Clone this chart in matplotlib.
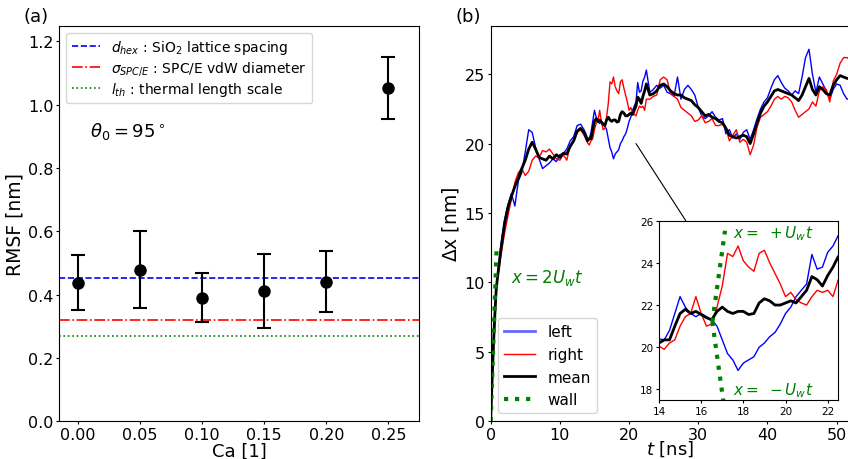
import numpy as np
import matplotlib.pyplot as plt
from matplotlib.patches import ConnectionPatch

# (a) RMSF of the contact line vs capillary number
ca = [0.00, 0.05, 0.10, 0.15, 0.20, 0.25]
rmsf = [0.437, 0.479, 0.390, 0.411, 0.441, 1.054]
rmsf_err = [0.087, 0.121, 0.078, 0.116, 0.095, 0.098]
d_hex = 0.451
sigma_spce = 0.318
l_th = 0.268

# (b) contact line displacement
t_ns = np.concatenate([
    [0.0, 0.2, 0.4, 0.6, 0.8],
    np.arange(1.0, 14.0, 0.5),
    np.arange(14.0, 22.75, 0.25),
    np.arange(23.0, 52.5, 0.5),
])
dx_left = [
    0, 3.5, 5.8, 7.8, 9.4, 10.6,
    12.8, 14.5, 15.6, 16.4, 15.5, 17.3, 17.9, 19.4, 21.0, 20.8,
    19.7, 18.9, 18.2, 18.4, 18.6, 18.9, 18.7, 19.2, 19.3, 19.6,
    20.2, 20.5, 21.3, 21.4, 21.0,
    # 14 - 22.5 ns
    20.4, 20.35, 20.8, 21.6, 22.4, 21.9, 21.6, 21.45, 21.6, 21.45,
    21.3, 21.0, 20.35, 19.7, 19.4, 18.9, 19.25, 19.4, 19.55, 20.0,
    20.2, 20.5, 20.7, 21.1, 21.6, 21.9, 22.4, 22.7, 23.0, 24.4,
    23.7, 23.8, 24.5, 24.8, 25.3,
    # 23 - 52 ns
    23.7, 23.9, 24.2, 24.0, 24.2, 23.7, 23.6, 23.4, 24.8, 23.2,
    23.9, 24.2, 23.9, 23.5, 22.6, 22.0, 21.8, 22.0, 22.3, 21.9,
    21.7, 21.8, 20.7, 21.0, 20.4, 20.7, 20.3, 20.8, 21.0, 20.3,
    21.0, 21.8, 22.5, 23.0, 23.3, 24.0, 24.6, 24.9, 24.4, 24.0,
    23.8, 23.5, 23.8, 23.6, 24.8, 26.2, 26.8, 25.0, 23.7, 24.8,
    24.3, 23.8, 23.2, 23.9, 24.3, 24.2, 23.6, 23.2, 23.3,
]
dx_right = [
    0, 2.5, 5.0, 7.3, 9.2, 10.2,
    12.0, 13.5, 14.8, 16.0, 17.2, 17.9, 18.2, 17.7, 18.0, 18.8,
    19.1, 19.0, 19.5, 19.4, 19.6, 19.25, 18.9, 18.8, 19.2, 18.8,
    19.9, 20.2, 20.8, 21.0, 20.6,
    # 14 - 22.5 ns
    20.05, 19.9, 20.2, 20.35, 21.0, 21.45, 21.6, 22.4, 21.6, 21.0,
    21.1, 21.9, 22.9, 24.45, 24.3, 24.8, 24.1, 23.8, 23.6, 24.45,
    24.6, 24.0, 23.5, 23.0, 22.4, 22.6, 22.25, 22.1, 22.0, 22.4,
    22.7, 22.6, 22.7, 22.4, 23.2,
    # 23 - 52 ns
    23.2, 23.4, 23.5, 24.6, 24.8, 24.6, 23.6, 23.4, 23.2, 22.6,
    22.4, 22.2, 22.0, 21.6, 21.7, 22.0, 21.5, 21.6, 21.8, 21.3,
    21.3, 21.4, 21.1, 20.2, 20.6, 21.0, 20.1, 20.3, 20.1, 19.2,
    19.9, 21.2, 21.9, 22.1, 22.3, 22.7, 23.2, 23.4, 23.2, 23.4,
    23.3, 23.0, 22.4, 21.9, 22.1, 22.3, 22.5, 23.0, 22.7, 23.8,
    24.1, 23.9, 23.0, 24.5, 25.0, 25.8, 26.2, 26.2, 26.0,
]
dx_mean = [
    0, 2.8, 5.4, 7.6, 9.5, 10.4,
    12.4, 14.2, 15.4, 16.2, 16.9, 17.5, 18.2, 18.8, 19.6, 20.1,
    19.6, 19.0, 18.9, 18.8, 19.1, 18.9, 19.2, 19.0, 19.3, 19.25,
    19.8, 20.2, 20.9, 21.1, 20.8,
    # 14 - 22.5 ns
    20.2, 20.35, 20.35, 21.0, 21.6, 21.8, 21.6, 21.7, 21.55, 21.4,
    21.3, 21.7, 21.9, 21.7, 21.6, 21.7, 21.7, 21.55, 21.6, 22.1,
    22.3, 22.2, 22.0, 22.0, 22.1, 22.2, 22.1, 22.4, 22.7, 23.35,
    23.2, 22.9, 23.4, 23.8, 24.3,
    # 23 - 52 ns
    23.5, 23.6, 23.8, 24.2, 24.3, 24.1, 23.8, 23.6, 23.5, 23.5,
    23.3, 23.2, 23.1, 22.8, 22.6, 22.3, 22.0, 22.1, 21.9, 21.8,
    21.6, 21.5, 21.1, 20.6, 20.5, 20.4, 20.5, 20.6, 20.5, 20.0,
    20.7, 21.5, 22.2, 22.7, 23.0, 23.4, 23.8, 23.9, 23.8, 23.7,
    23.6, 23.5, 23.3, 23.1, 23.5, 24.1, 24.7, 23.9, 23.5, 24.1,
    23.9, 23.6, 23.5, 24.2, 24.6, 24.9, 24.8, 24.7, 24.7,
]

# wall speed [nm/ns] and where the wall lines are drawn
U_w = 7.2
wall_t_main = np.array([0.0, 0.88])
wall_t0, wall_x0 = 16.53, 21.2
wall_t_inset = np.array([wall_t0, 17.13])

fig = plt.figure(figsize=(8.48, 4.6), dpi=100)

# ---------------- (a) ----------------
ax_a = fig.add_axes([0.0699, 0.0826, 0.4245, 0.8594])
ax_a.axhline(d_hex, color="b", ls="--", lw=1.2,
             label=r"$d_{hex}$ : SiO$_2$ lattice spacing")
ax_a.axhline(sigma_spce, color="r", ls="-.", lw=1.2,
             label=r"$\sigma_{SPC/E}$ : SPC/E vdW diameter")
ax_a.axhline(l_th, color="g", ls=":", lw=1.2,
             label=r"$l_{th}$ : thermal length scale")
ax_a.errorbar(ca, rmsf, yerr=rmsf_err, fmt="o", color="k", ms=8,
              capsize=5, elinewidth=1.5, capthick=1.5)
ax_a.set_xlim(-0.0153, 0.275)
ax_a.set_ylim(0, 1.25)
ax_a.set_xticks(ca)
ax_a.set_xticklabels(["%.2f" % c for c in ca])
ax_a.set_yticks(np.arange(0, 1.3, 0.2))
ax_a.tick_params(labelsize=11.5, length=2.5, pad=1.5)
ax_a.set_xlabel("Ca [1]", fontsize=13, labelpad=0)
ax_a.set_ylabel("RMSF [nm]", fontsize=13.5, labelpad=3)
ax_a.text(0.0095, 0.919, r"$\theta_0 = 95^\circ$", fontsize=13, va="center")
ax_a.legend(loc="upper left", fontsize=10, labelspacing=0.2)
fig.text(0.0283, 0.9637, "(a)", fontsize=13, va="center")

# ---------------- (b) ----------------
# right spine sits at the figure edge (cropped in the original)
ax_b = fig.add_axes([0.5786, 0.0826, 0.4237, 0.8594])
ax_b.plot(t_ns, dx_left, color="b", lw=1, label="left")
ax_b.plot(t_ns, dx_right, color="r", lw=1, label="right")
ax_b.plot(t_ns, dx_mean, color="k", lw=2, label="mean")
ax_b.plot(wall_t_main, 2 * U_w * wall_t_main, color="g", ls=":", lw=3,
          label="wall")
ax_b.set_xlim(0, 51.92)
ax_b.set_ylim(0, 28.5)
ax_b.set_xticks(np.arange(0, 51, 10))
ax_b.set_yticks(np.arange(0, 26, 5))
ax_b.tick_params(labelsize=11.5, length=2.5, pad=1.5)
ax_b.set_xlabel(r"$t$ [ns]", fontsize=13, labelpad=-2.5)
ax_b.set_ylabel(r"$\Delta$x [nm]", fontsize=13.5, labelpad=3)
ax_b.text(3.0, 10.4, r"$x = 2U_wt$", color="g", fontsize=12, va="center")
leg = ax_b.legend(loc="lower left", fontsize=11)
leg.legend_handles[0].set_alpha(0.6)
leg.legend_handles[0].set_linewidth(2)
fig.text(0.5374, 0.9637, "(b)", fontsize=13, va="center")

# inset: zoom on the split around t = 17 ns
ax_in = fig.add_axes([0.7771, 0.1283, 0.2114, 0.3898])
ax_in.plot(t_ns, dx_left, color="b", lw=1)
ax_in.plot(t_ns, dx_right, color="r", lw=1)
ax_in.plot(t_ns, dx_mean, color="k", lw=2)
ax_in.plot(wall_t_inset, wall_x0 + U_w * (wall_t_inset - wall_t0),
           color="g", ls=":", lw=3)
ax_in.plot(wall_t_inset, wall_x0 - U_w * (wall_t_inset - wall_t0),
           color="g", ls=":", lw=3)
ax_in.set_xlim(14, 22.5)
ax_in.set_ylim(17.5, 26)
ax_in.set_xticks([14, 16, 18, 20, 22])
ax_in.set_yticks([18, 20, 22, 24, 26])
ax_in.tick_params(labelsize=7.5, length=2.5, pad=1.5)
ax_in.text(17.5, 25.45, r"$x =\ +U_wt$", color="g", fontsize=11, va="center")
ax_in.text(17.5, 18.0, r"$x =\ -U_wt$", color="g", fontsize=11, va="center")

con = ConnectionPatch(xyA=(21.0, 20.0), coordsA=ax_b.transData,
                      xyB=(15.27, 26.0), coordsB=ax_in.transData,
                      color="k", lw=0.8)
fig.add_artist(con)

plt.savefig("out.png", dpi=100)
